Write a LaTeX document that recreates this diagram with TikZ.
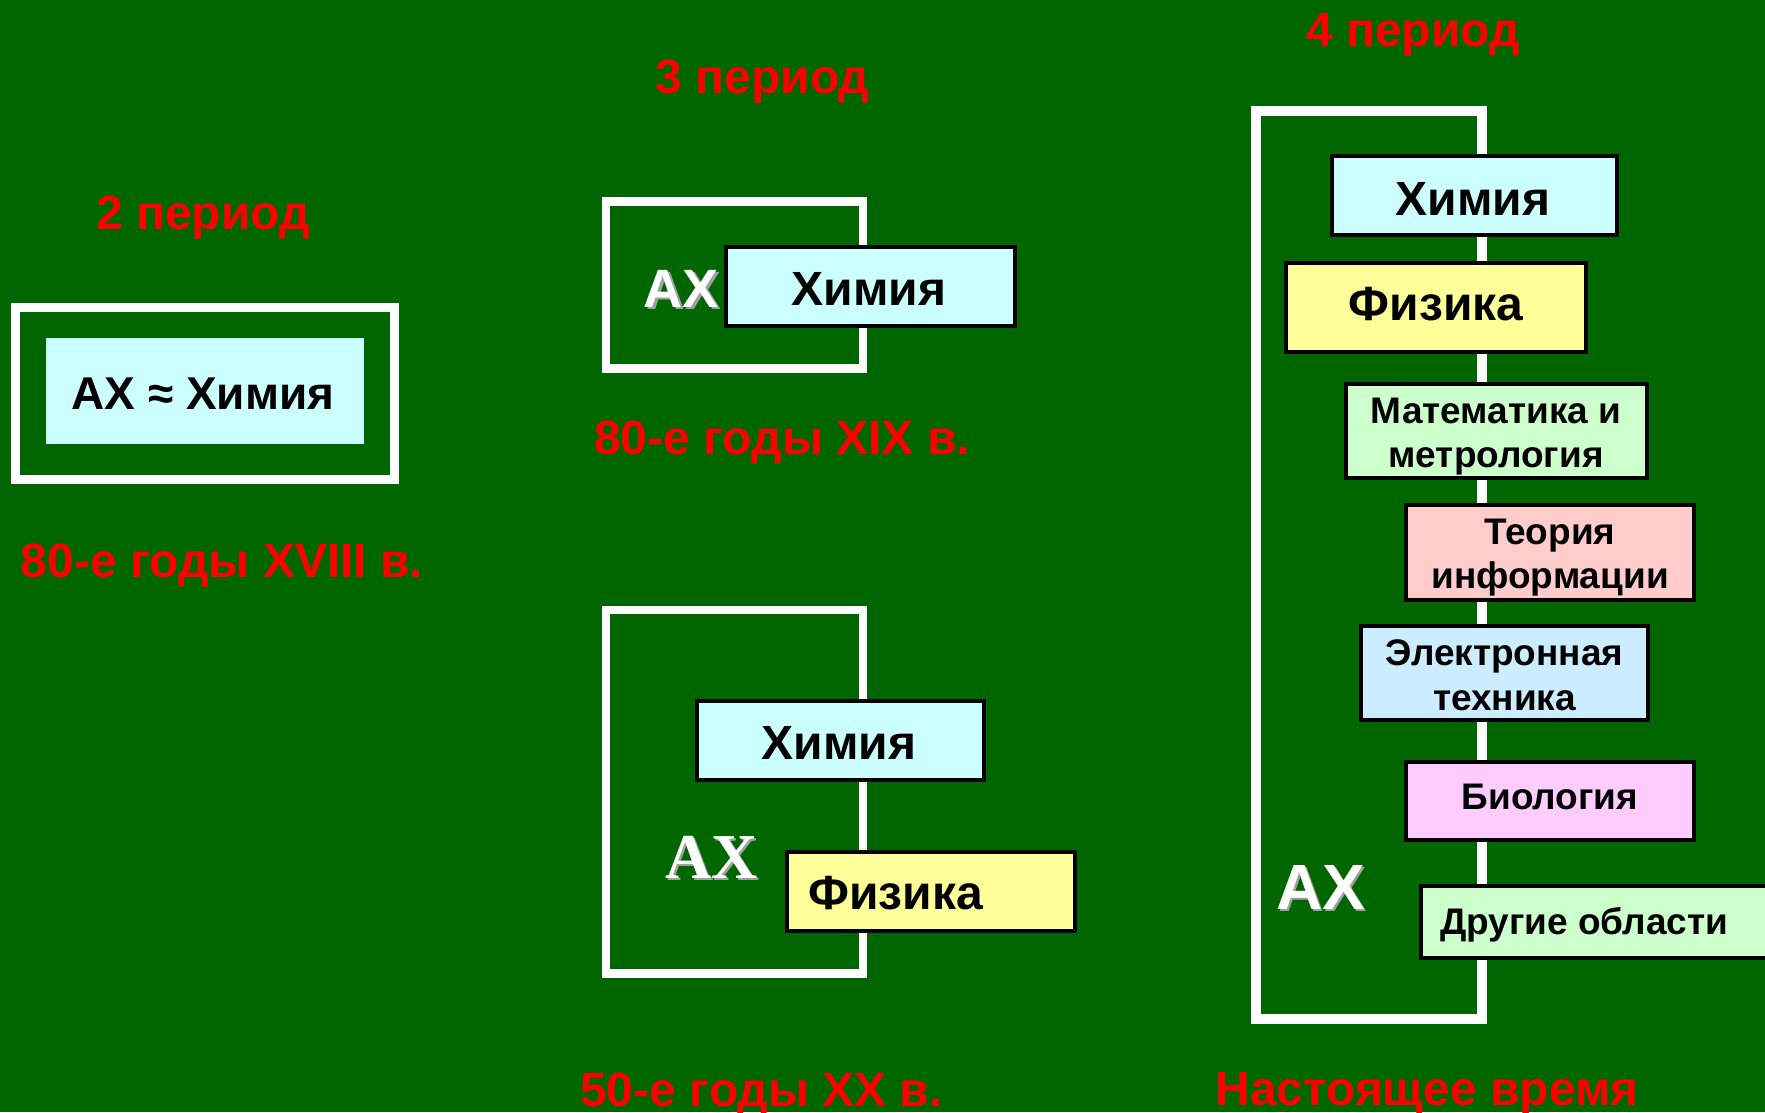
\documentclass[tikz,border=0pt]{standalone}
\usepackage{fontspec}
\setmainfont{Liberation Sans}
\newfontfamily\axserif{Liberation Serif}
\definecolor{bg}{HTML}{006600}
\definecolor{cyanbox}{HTML}{CCFFFF}
\definecolor{yellowbox}{HTML}{FFFF99}
\definecolor{greenbox}{HTML}{CCFFCC}
\definecolor{pinkbox}{HTML}{FFCCCC}
\definecolor{bluebox}{HTML}{CCECFF}
\definecolor{violetbox}{HTML}{FFCCFF}
\definecolor{redlabel}{HTML}{FF0000}
\definecolor{shadowgray}{HTML}{A0A0A0}
\tikzset{
  frame/.style={draw=white, line width=#1},
  box/.style={draw=black, line width=4pt, inner sep=0pt},
  bigtext/.style={inner sep=0pt, anchor=base, font=\bfseries\fontsize{48}{52}\selectfont},
  smalltext/.style={inner sep=0pt, anchor=base, font=\bfseries\fontsize{37}{44}\selectfont},
  period/.style={text=redlabel, inner sep=0pt, anchor=base,
    font=\bfseries\fontsize{48}{52}\selectfont},
  axsans/.style={text=white, inner sep=0pt, anchor=base, font=\bfseries\fontsize{#1}{#1}\selectfont},
  axshadow/.style={text=shadowgray, inner sep=0pt, anchor=base, font=\bfseries\fontsize{#1}{#1}\selectfont},
}
\begin{document}
\begin{tikzpicture}[x=1pt, y=-1pt]
\useasboundingbox (0,0) rectangle (1765,1112);
\fill[bg] (0,0) rectangle (1765,1112);

% ---------- 2 period ----------
\node[period] (p2) at (203,229) {2 период};
\draw[frame=9pt] (15.5,307.5) rectangle (394,479.5);
\node[fill=cyanbox, inner sep=0pt, minimum width=318pt, minimum height=106pt] (ax1) at (205,391) {};
\node[inner sep=0pt, anchor=base, font=\bfseries\fontsize{46}{50}\selectfont] (ax1t) at (203,409) {АХ ≈ Химия};
\node[period] (d2) at (222,577) {80-е годы XVIII в.};

% ---------- 3 period, top ----------
\node[period] (p3) at (762.5,93) {3 период};
\draw[frame=8.5pt] (606,201.5) rectangle (863,368.5);
\node[axshadow=54] (ax2s) at (684,309.5) {АХ};
\node[axsans=54] (ax2) at (681.5,307) {АХ};
\node[box, fill=cyanbox, minimum width=289pt, minimum height=79pt] (chem2) at (870.5,286.5) {};
\node[bigtext] (chem2t) at (869,305) {Химия};
\node[period] (d3) at (782,454) {80-е годы XIX в.};

% ---------- 3 period, bottom ----------
\draw[frame=8.5pt] (606,610) rectangle (863,973.5);
\node[box, fill=cyanbox, minimum width=287pt, minimum height=79pt] (chem3) at (840.5,740.5) {};
\node[bigtext] (chem3t) at (839,759) {Химия};
\node[box, fill=yellowbox, minimum width=288pt, minimum height=79pt] (phys3) at (931,891.5) {};
\node[bigtext, anchor=base west] (phys3t) at (808,909) {Физика};
\node[text=shadowgray, inner sep=0pt, anchor=base, font=\axserif\bfseries\fontsize{64}{64}\selectfont] (ax3s) at (714,880.5) {АХ};
\node[text=white, inner sep=0pt, anchor=base, font=\axserif\bfseries\fontsize{64}{64}\selectfont] (ax3) at (711.5,878) {АХ};
\node[period] (d5) at (761.5,1106) {50-е годы XX в.};

% ---------- 4 period ----------
\node[period] (p4) at (1413,46) {4 период};
\draw[frame=10pt] (1256,111) rectangle (1482,1018.5);
\node[box, fill=cyanbox, minimum width=285pt, minimum height=79pt] (chem4) at (1474.5,195.5) {};
\node[bigtext] (chem4t) at (1473,215) {Химия};
\node[box, fill=yellowbox, minimum width=300pt, minimum height=89pt] (phys4) at (1436,307.5) {};
\node[bigtext] (phys4t) at (1436,320) {Физика};
\node[box, fill=greenbox, minimum width=301pt, minimum height=94pt] (math4) at (1496.5,431) {};
\node[smalltext] (math4a) at (1496,423) {Математика и};
\node[smalltext] (math4b) at (1496,467) {метрология};
\node[box, fill=pinkbox, minimum width=288pt, minimum height=95pt] (info4) at (1550,552.5) {};
\node[smalltext] (info4a) at (1550,544) {Теория};
\node[smalltext] (info4b) at (1550,588) {информации};
\node[box, fill=bluebox, minimum width=287pt, minimum height=94pt] (elec4) at (1504.5,673) {};
\node[smalltext] (elec4a) at (1504.5,665) {Электронная};
\node[smalltext] (elec4b) at (1504.5,710) {техника};
\node[box, fill=violetbox, minimum width=288pt, minimum height=78pt] (bio4) at (1550,801) {};
\node[smalltext] (bio4t) at (1550,809) {Биология};
\node[box, fill=greenbox, minimum width=379pt, minimum height=72pt] (other4) at (1610.5,922) {};
\node[smalltext, anchor=base west] (other4t) at (1440,934) {Другие области};
\node[axshadow=64] (ax4s) at (1323,911.5) {АХ};
\node[axsans=64] (ax4) at (1320.5,909) {АХ};
\node[period] (d4) at (1427,1105) {Настоящее время};
\end{tikzpicture}
\end{document}
